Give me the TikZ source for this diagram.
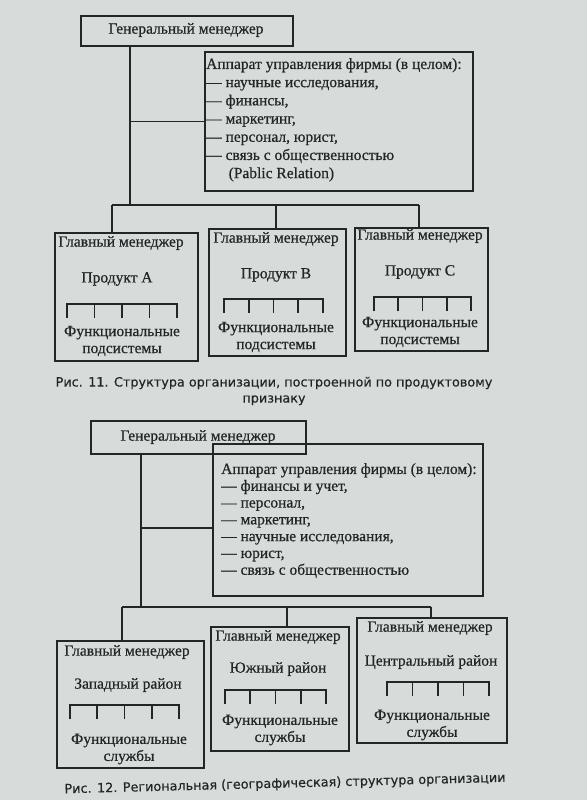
\documentclass[tikz,border=0pt]{standalone}
\usepackage{fontspec}
\setmainfont{Liberation Serif}[FakeBold=0.6]
\newfontfamily\capfont{DejaVu Sans}[FakeBold=0.4]
\usetikzlibrary{calc,positioning}
\definecolor{pageGray}{HTML}{D7DBDA}
\definecolor{ink}{HTML}{222626}
\tikzset{
  frame/.style={rectangle, draw=ink, line width=1.9pt, inner sep=0pt, anchor=north west},
  link/.style={draw=ink, line width=1.9pt},
  boxText/.style={font=\fontsize{15.5}{17}\selectfont, text=ink, inner sep=0pt, align=center},
  listText/.style={text=ink, inner sep=0pt, align=left, anchor=north west},
  capText/.style={font=\capfont\fontsize{12.8}{16}\selectfont, text=ink, inner sep=0pt, align=center}
}
\newcommand{\subComb}[3]{%
  \draw[link] (#1,#3+14) -- (#1,#3) -- (#2,#3) -- (#2,#3+14);
  \foreach \k in {1,2,3} {
    \draw[link] ({#1+\k*(#2-#1)/4},#3) -- ++(0,14);
  }
}

\begin{document}
\begin{tikzpicture}[x=1pt,y=-1pt]
\fill[pageGray] (0,0) rectangle (587,800);
\useasboundingbox (0,0) rectangle (587,800);

% --------------------------------------------------------------------------
% Fig. 11
% --------------------------------------------------------------------------
\node[frame, minimum width=212pt, minimum height=30pt] (gm1) at (80,15) {};
\node[boxText] (gm1Text) at (186,30) {Генеральный менеджер};
\node[frame, minimum width=268pt, minimum height=139pt] (app1) at (204,51) {};
\node[listText, font=\fontsize{15.5}{18.2}\selectfont] (app1Text) at (206,58) {%
Аппарат управления фирмы (в целом):\\
--- научные исследования,\\
--- финансы,\\
--- маркетинг,\\
--- персонал, юрист,\\
--- связь с общественностью\\
\hspace{1.45em}(Pablic Relation)};

\node[frame, minimum width=143pt, minimum height=128pt] (pA1) at (54,232) {};
\node[frame, minimum width=137pt, minimum height=127pt] (pB1) at (208,228) {};
\node[frame, minimum width=133pt, minimum height=123pt] (pC1) at (354,227) {};

\node[boxText] (pA1Head) at (121,243) {Главный менеджер};
\node[boxText] (pA1Name) at (117,279) {Продукт A};
\subComb{67}{177}{304}
\node[boxText] (pA1Sub) at (122,341) {Функциональные\\подсистемы};

\node[boxText] (pB1Head) at (276,239) {Главный менеджер};
\node[boxText] (pB1Name) at (276,275) {Продукт B};
\subComb{224}{323}{299}
\node[boxText] (pB1Sub) at (276,337) {Функциональные\\подсистемы};

\node[boxText] (pC1Head) at (420,236) {Главный менеджер};
\node[boxText] (pC1Name) at (420,272) {Продукт C};
\subComb{374}{471}{297}
\node[boxText] (pC1Sub) at (420,332) {Функциональные\\подсистемы};

\coordinate (trunk1) at (130,205);
\coordinate (dA1) at (112,205);
\coordinate (dB1) at (276,205);
\coordinate (dC1) at (419,205);
\draw[link] (gm1.south -| trunk1) -- (trunk1);
\draw[link] (app1.west) -- (app1.west -| trunk1);
\draw[link] (dA1) -- (dC1);
\draw[link] (dA1) -- (dA1 |- pA1.north);
\draw[link] (dB1) -- (dB1 |- pB1.north);
\draw[link] (dC1) -- (dC1 |- pC1.north);

\node[capText] (cap1) at (274,391) {Рис. 11. Структура организации, построенной по продуктовому\\признаку};

% --------------------------------------------------------------------------
% Fig. 12
% --------------------------------------------------------------------------
\node[frame, minimum width=215pt, minimum height=33pt] (gm2) at (90,420) {};
\node[boxText] (gm2Text) at (198,437) {Генеральный менеджер};
\node[frame, minimum width=270pt, minimum height=152pt] (app2) at (212,443) {};
\node[listText, font=\fontsize{15.5}{16.8}\selectfont] (app2Text) at (221,463) {%
Аппарат управления фирмы (в целом):\\
--- финансы и учет,\\
--- персонал,\\
--- маркетинг,\\
--- научные исследования,\\
--- юрист,\\
--- связь с общественностью};

\node[frame, minimum width=147pt, minimum height=127pt] (pA2) at (56,640) {};
\node[frame, minimum width=138pt, minimum height=124pt] (pB2) at (210,626) {};
\node[frame, minimum width=150pt, minimum height=125pt] (pC2) at (356,617) {};

\node[boxText] (pA2Head) at (127,652) {Главный менеджер};
\node[boxText] (pA2Name) at (128,685) {Западный район};
\subComb{70}{179}{705}
\node[boxText] (pA2Sub) at (129,749) {Функциональные\\службы};

\node[boxText] (pB2Head) at (278,637) {Главный менеджер};
\node[boxText] (pB2Name) at (278,669) {Южный район};
\subComb{225}{326}{690}
\node[boxText] (pB2Sub) at (280,730) {Функциональные\\службы};

\node[boxText] (pC2Head) at (430,628) {Главный менеджер};
\node[boxText] (pC2Name) at (431,662) {Центральный район};
\subComb{387}{489}{682}
\node[boxText] (pC2Sub) at (432,725) {Функциональные\\службы};

\coordinate (trunk2) at (141,607);
\coordinate (dA2) at (122,607);
\coordinate (dB2) at (287,607);
\coordinate (dC2) at (431,607);
\coordinate (branch2) at (141,528);
\draw[link] (gm2.south -| trunk2) -- (trunk2);
\draw[link] (branch2) -- (branch2 -| app2.west);
\draw[link] (dA2) -- (dC2);
\draw[link] (dA2) -- (dA2 |- pA2.north);
\draw[link] (dB2) -- (dB2 |- pB2.north);
\draw[link] (dC2) -- (dC2 |- pC2.north);

\node[capText, rotate=1.5] (cap2) at (285,784) {Рис. 12. Региональная (географическая) структура организации};

\end{tikzpicture}
\end{document}
